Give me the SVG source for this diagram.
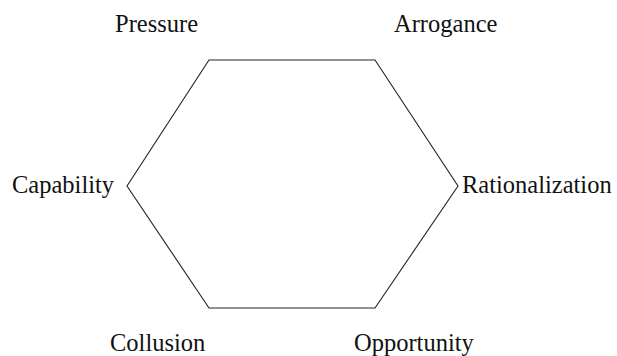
<svg xmlns="http://www.w3.org/2000/svg" width="617" height="356" viewBox="0 0 617 356">
<style>
.lbl{font-family:"Liberation Serif","Times New Roman",serif;font-size:24.5px;fill:#111}
.edge{fill:none;stroke:#222;stroke-width:1.1}
</style>
<rect width="617" height="356" fill="#fff"/>
<g id="connectors">
<polygon class="edge" points="209,60 375,60 458,186 375,308 209,308 127,186"/>
</g>
<g id="pressure"><text class="lbl" x="115" y="32">Pressure</text></g>
<g id="arrogance"><text class="lbl" x="394" y="32">Arrogance</text></g>
<g id="capability"><text class="lbl" x="12" y="193">Capability</text></g>
<g id="rationalization"><text class="lbl" x="462" y="193">Rationalization</text></g>
<g id="collusion"><text class="lbl" x="110" y="351">Collusion</text></g>
<g id="opportunity"><text class="lbl" x="354" y="351">Opportunity</text></g>
</svg>
